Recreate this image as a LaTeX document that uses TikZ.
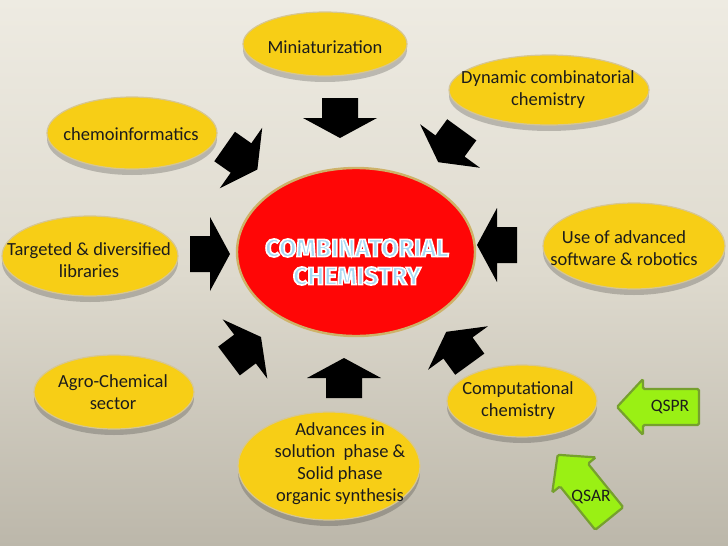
\documentclass[tikz,border=0pt]{standalone}
\usepackage{fontspec}
\setmainfont{Carlito}
\newfontfamily\titlefont{Fira Sans}
\usetikzlibrary{shadows}

\definecolor{bgtop}{RGB}{238,235,226}
\definecolor{bgmid}{RGB}{222,218,206}
\definecolor{bgbot}{RGB}{188,183,170}
\definecolor{ideayellow}{RGB}{247,206,22}
\definecolor{idearim}{RGB}{214,198,146}
\definecolor{corered}{RGB}{255,6,6}
\definecolor{corerim}{RGB}{206,178,104}
\definecolor{titleblue}{RGB}{166,216,242}
\definecolor{qgreen}{RGB}{154,240,20}
\definecolor{qrim}{RGB}{118,160,46}
\definecolor{labeltext}{RGB}{28,28,28}

% white outline round the title letters (fill, then stroke)
\newcommand{\outlined}[1]{\special{pdf:literal direct 1 1 1 RG 1.6 w 2 Tr}#1\special{pdf:literal direct 0 Tr}}

\tikzset{
  idea/.style={fill=ideayellow, draw=idearim, line width=1.2pt,
    drop shadow={shadow xshift=0pt, shadow yshift=-6pt, opacity=0.2, fill=black}},
  ideatext/.style={align=center, text=labeltext, inner sep=0pt,
    font=\fontsize{18.5}{22}\selectfont},
  core/.style={fill=corered, draw=corerim, line width=2.4pt},
  qstyle/.style={fill=qgreen, draw=qrim, line width=2.2pt, rounded corners=1.5pt},
  qlabel/.style={text=labeltext, font=\fontsize{17.5}{20}\selectfont}
}

% block arrow, origin at the middle of the head base
\newcommand{\inarrow}[3]{%
  \fill[black, shift={(#1,#2)}, rotate=#3]
    (-20,-18) -- (0,-18) -- (0,-37) -- (20,0) -- (0,37) -- (0,18) -- (-20,18) -- cycle;}
\newcommand{\qarrow}[3]{%
  \draw[qstyle, shift={(#1,#2)}, rotate=#3]
    (-56,-18) -- (0,-18) -- (0,-28) -- (26,0) -- (0,28) -- (0,18) -- (-56,18) -- cycle;}

\begin{document}
\begin{tikzpicture}[x=1pt, y=-1pt]
    % Background
    \useasboundingbox (0,0) rectangle (728,546);
    \clip (0,0) rectangle (728,546);
    \shade[top color=bgtop, bottom color=bgbot, middle color=bgmid] (0,0) rectangle (728,546);

    % Centre
    \draw[core] (356,252) ellipse [x radius=119, y radius=84];
    \node[text=titleblue, align=center, font=\titlefont\bfseries\fontsize{25}{28}\selectfont]
      (title) at (357,262) {\outlined{COMBINATORIAL}\\\outlined{CHEMISTRY}};

    % Surrounding topics
    \draw[idea] (325,44) ellipse [x radius=82, y radius=32];
    \node[ideatext] (mini) at (325,47) {Miniaturization};

    \draw[idea] (549,90) ellipse [x radius=100, y radius=35];
    \node[ideatext] (dyn) at (548,90) {Dynamic combinatorial\\chemistry};

    \draw[idea] (132,133) ellipse [x radius=85, y radius=36];
    \node[ideatext] (chemo) at (131,134) {chemoinformatics};

    \draw[idea] (90,256) ellipse [x radius=88, y radius=40];
    \node[ideatext] (lib) at (89,260) {Targeted \& diversified\\libraries};

    \draw[idea] (634,246) ellipse [x radius=91, y radius=43];
    \node[ideatext] (soft) at (624,248) {Use of advanced\\software \& robotics};

    \draw[idea] (114,392) ellipse [x radius=80, y radius=37];
    \node[ideatext] (agro) at (113,392) {Agro-Chemical\\sector};

    \draw[idea] (522,401) ellipse [x radius=75, y radius=36];
    \node[ideatext] (comp) at (518,401) {Computational\\chemistry};

    \draw[idea] (329,466) ellipse [x radius=91, y radius=54];
    \node[ideatext] (adv) at (340,464)
      {Advances in\\solution~ phase \&\\Solid phase\\organic synthesis};

    % Black arrows towards the centre
    \inarrow{340}{118}{-90}
    \inarrow{450}{146}{-126}
    \inarrow{497}{245}{180}
    \inarrow{458}{348}{126}
    \inarrow{344}{378}{90}
    \inarrow{245}{349}{37}
    \inarrow{210}{254}{0}
    \inarrow{241}{158}{-35}

    % QSPR and QSAR
    \qarrow{643}{407}{180}
    \qarrow{574}{475}{129}
    \node[qlabel] (qspr) at (670,407) {QSPR};
    \node[qlabel] (qsar) at (591,497) {QSAR};
\end{tikzpicture}
\end{document}
